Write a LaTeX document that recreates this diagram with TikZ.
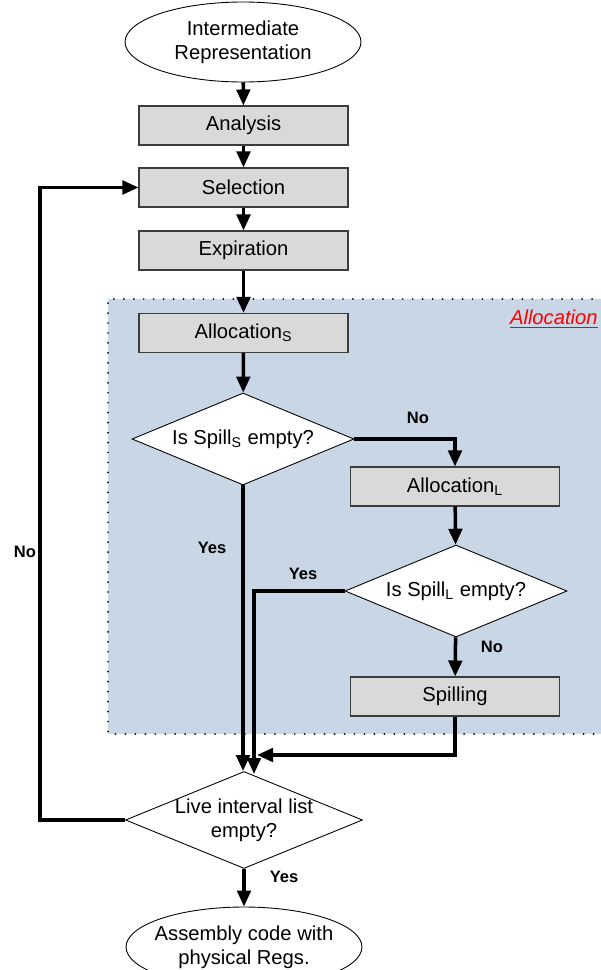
\documentclass[tikz,border=0pt]{standalone}
\usepackage{fontspec}
\setmainfont{Liberation Sans}
\usetikzlibrary{shapes.geometric, arrows.meta, positioning}
\definecolor{fondoAlloc}{HTML}{C9D6E6}
\definecolor{grisCaja}{HTML}{D9D9D9}
\definecolor{bordeCaja}{HTML}{3C3C3C}

\begin{document}
\begin{tikzpicture}[x=0.02cm, y=-0.02cm, font=\fontsize{11.5}{13.5}\selectfont,
        proc/.style={draw=bordeCaja, fill=grisCaja, line width=0.6pt,
            minimum width=4.18cm, minimum height=0.78cm, inner sep=0pt},
        cond/.style={diamond, draw=black, fill=white, line width=0.5pt, inner sep=0pt,
            minimum width=4.44cm, minimum height=1.84cm,
            label={[align=center, inner sep=0pt]center:#1}},
        term/.style={ellipse, draw=black, fill=white, line width=0.5pt,
            inner xsep=-0.14cm, inner ysep=0pt,
            minimum width=4.72cm, minimum height=1.6cm, align=center},
        lbl/.style={font=\fontsize{9.4}{11}\selectfont\bfseries},
        flow/.style={line width=2pt, -{Triangle[length=0.32cm, width=0.27cm]}}]
        \useasboundingbox (0,0) rectangle (600,970);
        % region
        \fill[fondoAlloc] (108,299) rectangle (602,734);
        \draw[line width=1.1pt, dash pattern=on 0pt off 5.67pt, line cap=round] (602,299) -- (108,299) -- (108,734) -- (602,734);
        \node[anchor=east, text=red, inner sep=0pt] (tag) at (598,319) {\underline{\textit{Allocation}}};
        % nodes
        \node[term] (ir)   at (243,42)    {Intermediate\\Representation};
        \node[proc] (ana)  at (243.5,125.5) {Analysis};
        \node[proc] (sel)  at (243.5,187.5) {Selection};
        \node[proc] (exp)  at (243.5,250.5) {Expiration};
        \node[proc] (als)  at (243.5,333)   {Allocation\textsubscript{S}};
        \node[cond={Is Spill\textsubscript{S} empty?}] (dss) at (243,439) {};
        \node[proc] (all)  at (455,486.5)   {Allocation\textsubscript{L}};
        \node[cond={Is Spill\textsubscript{L} empty?}] (dsl) at (456,591) {};
        \node[proc] (spl)  at (455,696.5)   {Spilling};
        \node[cond={Live interval list\\empty?}, minimum width=4.74cm, minimum height=1.94cm] (live) at (244,820) {};
        \node[term] (asm)  at (244,947)     {Assembly code with\\physical Regs.};
        % connectors
        \draw[flow] (ir) -- (ana);
        \draw[flow] (ana) -- (sel);
        \draw[flow] (sel) -- (exp);
        \draw[flow] (exp) -- (als);
        \draw[flow] (als) -- (dss);
        \draw[flow] (dss.east) -| (all.north);
        \draw[flow] (dss.south) -- (dss.south |- live.north);
        \draw[flow] (all) -- (dsl);
        \draw[flow] (dsl) -- (spl);
        \coordinate (yl) at (254,774);
        \draw[flow] (dsl.west) -| (yl);
        \coordinate (sp) at (257,755);
        \draw[flow] (spl.south) |- (sp);
        \coordinate (lp) at (40,820);
        \draw[flow] (live.west) -- (lp) |- (sel.west);
        \draw[flow] (live) -- (asm);
        % labels
        \node[lbl] (n1) at (418,418) {No};
        \node[lbl] (y1) at (212,548) {Yes};
        \node[lbl] (y2) at (303,574) {Yes};
        \node[lbl] (n2) at (492,647) {No};
        \node[lbl] (n3) at (25,552)  {No};
        \node[lbl] (y3) at (284,877) {Yes};
    \end{tikzpicture}
\end{document}
